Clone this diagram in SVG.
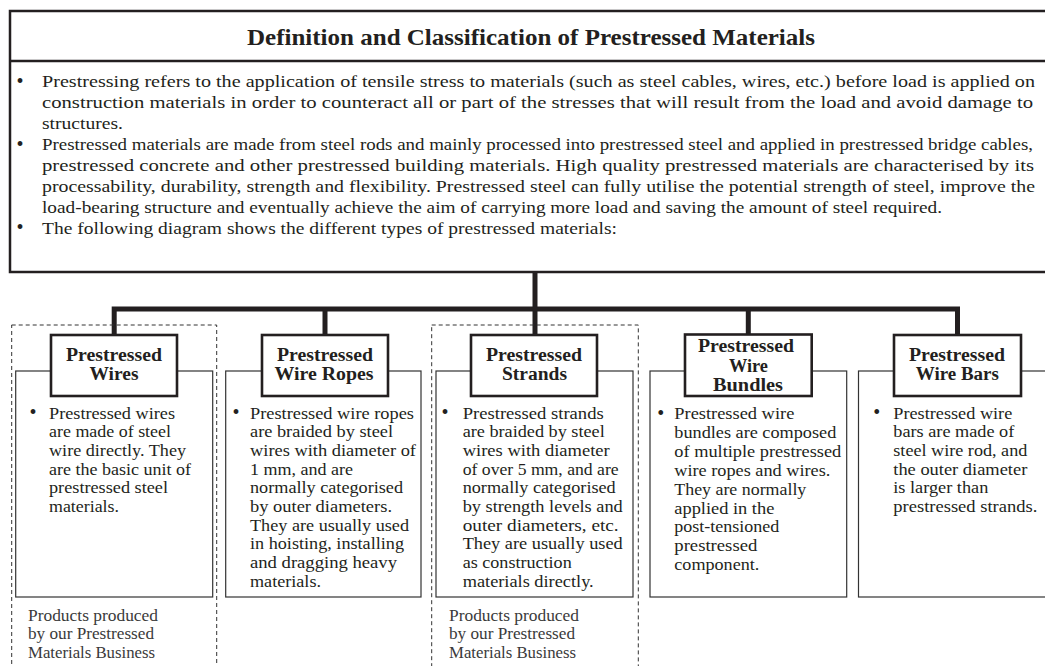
<svg xmlns="http://www.w3.org/2000/svg" width="1045" height="666" viewBox="0 0 1045 666">
<style>
.t{font-family:"Liberation Serif","Times New Roman",serif;fill:#231f20}
.body{font-size:17px}
.bx{font-size:16px}
.prod{font-size:16px;fill:#3a3a3a}
.head{font-size:18.5px;font-weight:bold;text-anchor:middle}
.title{font-size:23.5px;font-weight:bold;text-anchor:middle}
.bul{text-anchor:middle;font-size:20px}
.frame{fill:#fff;stroke:#231f20;stroke-width:2.5}
.tbox{fill:#fff;stroke:#231f20;stroke-width:2.6}
.content{fill:#fff;stroke:#333;stroke-width:1.2}
.dash{fill:none;stroke:#333;stroke-width:1;stroke-dasharray:4 3}
.conn{fill:none;stroke:#231f20;stroke-width:5;stroke-linejoin:miter;stroke-linecap:butt}
</style>
<rect width="1045" height="666" fill="#fff"/>

<g id="header">
<rect class="frame" x="10" y="11" width="1045" height="261"/>
<line x1="10" y1="61" x2="1050" y2="61" stroke="#231f20" stroke-width="2.5"/>
<text class="t title" x="531" y="45" textLength="568" lengthAdjust="spacingAndGlyphs">Definition and Classification of Prestressed Materials</text>
<g class="t body">
<text class="bul" x="20" y="87.5">•</text>
<text x="42" y="87" textLength="993" lengthAdjust="spacingAndGlyphs">Prestressing refers to the application of tensile stress to materials (such as steel cables, wires, etc.) before load is applied on</text>
<text x="42" y="108" textLength="991" lengthAdjust="spacingAndGlyphs">construction materials in order to counteract all or part of the stresses that will result from the load and avoid damage to</text>
<text x="42" y="129" textLength="81" lengthAdjust="spacingAndGlyphs">structures.</text>
<text class="bul" x="20" y="150.5">•</text>
<text x="42" y="150" textLength="991" lengthAdjust="spacingAndGlyphs">Prestressed materials are made from steel rods and mainly processed into prestressed steel and applied in prestressed bridge cables,</text>
<text x="42" y="171" textLength="992" lengthAdjust="spacingAndGlyphs">prestressed concrete and other prestressed building materials. High quality prestressed materials are characterised by its</text>
<text x="42" y="192" textLength="993" lengthAdjust="spacingAndGlyphs">processability, durability, strength and flexibility. Prestressed steel can fully utilise the potential strength of steel, improve the</text>
<text x="42" y="212.7" textLength="900" lengthAdjust="spacingAndGlyphs">load-bearing structure and eventually achieve the aim of carrying more load and saving the amount of steel required.</text>
<text class="bul" x="20" y="234">•</text>
<text x="42" y="233.5" textLength="575" lengthAdjust="spacingAndGlyphs">The following diagram shows the different types of prestressed materials:</text>
</g>
</g>

<g id="connectors">
<line class="conn" x1="535" y1="272" x2="535" y2="335"/>
<path class="conn" d="M114.2,335 V309 H957.5 V335"/>
<line class="conn" x1="325" y1="309" x2="325" y2="335"/>
<line class="conn" x1="748.3" y1="309" x2="748.3" y2="335"/>
</g>

<g id="node-wires">
<rect class="dash" x="11.7" y="325" width="205" height="360"/>
<rect class="content" x="15.7" y="371" width="197" height="226"/>
<rect class="tbox" x="51" y="335" width="126" height="61"/>
<text class="t head" x="114" y="360.7" textLength="96" lengthAdjust="spacingAndGlyphs">Prestressed</text>
<text class="t head" x="114" y="380" textLength="49" lengthAdjust="spacingAndGlyphs">Wires</text>
<g class="t bx">
<text class="bul" x="33" y="419">•</text>
<text x="49" y="418.5" textLength="126" lengthAdjust="spacingAndGlyphs">Prestressed wires</text>
<text x="49" y="437.2" textLength="122" lengthAdjust="spacingAndGlyphs">are made of steel</text>
<text x="49" y="455.9" textLength="137" lengthAdjust="spacingAndGlyphs">wire directly. They</text>
<text x="49" y="474.6" textLength="142" lengthAdjust="spacingAndGlyphs">are the basic unit of</text>
<text x="49" y="493.3" textLength="119" lengthAdjust="spacingAndGlyphs">prestressed steel</text>
<text x="49" y="512" textLength="70" lengthAdjust="spacingAndGlyphs">materials.</text>
</g>
<g class="t prod">
<text x="28" y="620.5" textLength="130" lengthAdjust="spacingAndGlyphs">Products produced</text>
<text x="28" y="639.2" textLength="126" lengthAdjust="spacingAndGlyphs">by our Prestressed</text>
<text x="28" y="657.8" textLength="127" lengthAdjust="spacingAndGlyphs">Materials Business</text>
</g>
</g>

<g id="node-wire-ropes">
<rect class="content" x="225.7" y="371" width="195.3" height="226"/>
<rect class="tbox" x="262" y="335" width="126" height="61"/>
<text class="t head" x="325" y="360.7" textLength="96" lengthAdjust="spacingAndGlyphs">Prestressed</text>
<text class="t head" x="324" y="380" textLength="99" lengthAdjust="spacingAndGlyphs">Wire Ropes</text>
<g class="t bx">
<text class="bul" x="236" y="419">•</text>
<text x="250" y="418.5" textLength="164" lengthAdjust="spacingAndGlyphs">Prestressed wire ropes</text>
<text x="250" y="437.2" textLength="143" lengthAdjust="spacingAndGlyphs">are braided by steel</text>
<text x="250" y="455.9" textLength="166" lengthAdjust="spacingAndGlyphs">wires with diameter of</text>
<text x="250" y="474.6" textLength="103" lengthAdjust="spacingAndGlyphs">1 mm, and are</text>
<text x="250" y="493.3" textLength="153" lengthAdjust="spacingAndGlyphs">normally categorised</text>
<text x="250" y="512" textLength="142" lengthAdjust="spacingAndGlyphs">by outer diameters.</text>
<text x="250" y="530.7" textLength="159" lengthAdjust="spacingAndGlyphs">They are usually used</text>
<text x="250" y="549.4" textLength="154" lengthAdjust="spacingAndGlyphs">in hoisting, installing</text>
<text x="250" y="568.1" textLength="147" lengthAdjust="spacingAndGlyphs">and dragging heavy</text>
<text x="250" y="586.8" textLength="71" lengthAdjust="spacingAndGlyphs">materials.</text>
</g>
</g>

<g id="node-strands">
<rect class="dash" x="431.7" y="325" width="206.6" height="360"/>
<rect class="content" x="436" y="371" width="197" height="226"/>
<rect class="tbox" x="471" y="335" width="126" height="61"/>
<text class="t head" x="534" y="360.7" textLength="96" lengthAdjust="spacingAndGlyphs">Prestressed</text>
<text class="t head" x="534.5" y="380" textLength="65" lengthAdjust="spacingAndGlyphs">Strands</text>
<g class="t bx">
<text class="bul" x="445" y="419">•</text>
<text x="462.7" y="418.5" textLength="141" lengthAdjust="spacingAndGlyphs">Prestressed strands</text>
<text x="462.7" y="437.2" textLength="142" lengthAdjust="spacingAndGlyphs">are braided by steel</text>
<text x="462.7" y="455.9" textLength="147" lengthAdjust="spacingAndGlyphs">wires with diameter</text>
<text x="462.7" y="474.6" textLength="156" lengthAdjust="spacingAndGlyphs">of over 5 mm, and are</text>
<text x="462.7" y="493.3" textLength="153" lengthAdjust="spacingAndGlyphs">normally categorised</text>
<text x="462.7" y="512" textLength="160" lengthAdjust="spacingAndGlyphs">by strength levels and</text>
<text x="462.7" y="530.7" textLength="156" lengthAdjust="spacingAndGlyphs">outer diameters, etc.</text>
<text x="462.7" y="549.4" textLength="160" lengthAdjust="spacingAndGlyphs">They are usually used</text>
<text x="462.7" y="568.1" textLength="109" lengthAdjust="spacingAndGlyphs">as construction</text>
<text x="462.7" y="586.8" textLength="131" lengthAdjust="spacingAndGlyphs">materials directly.</text>
</g>
<g class="t prod">
<text x="449" y="620.5" textLength="130" lengthAdjust="spacingAndGlyphs">Products produced</text>
<text x="449" y="639.2" textLength="126" lengthAdjust="spacingAndGlyphs">by our Prestressed</text>
<text x="449" y="657.8" textLength="127" lengthAdjust="spacingAndGlyphs">Materials Business</text>
</g>
</g>

<g id="node-wire-bundles">
<rect class="content" x="650" y="371" width="196.7" height="226"/>
<rect class="tbox" x="685" y="334.5" width="126.7" height="61.5"/>
<text class="t head" x="746" y="352.3" textLength="96" lengthAdjust="spacingAndGlyphs">Prestressed</text>
<text class="t head" x="748.5" y="371.7" textLength="39" lengthAdjust="spacingAndGlyphs">Wire</text>
<text class="t head" x="748" y="390.7" textLength="70" lengthAdjust="spacingAndGlyphs">Bundles</text>
<g class="t bx">
<text class="bul" x="660.7" y="419.5">•</text>
<text x="674.3" y="419" textLength="120" lengthAdjust="spacingAndGlyphs">Prestressed wire</text>
<text x="674.3" y="437.9" textLength="162" lengthAdjust="spacingAndGlyphs">bundles are composed</text>
<text x="674.3" y="456.8" textLength="167" lengthAdjust="spacingAndGlyphs">of multiple prestressed</text>
<text x="674.3" y="475.7" textLength="156" lengthAdjust="spacingAndGlyphs">wire ropes and wires.</text>
<text x="674.3" y="494.6" textLength="132" lengthAdjust="spacingAndGlyphs">They are normally</text>
<text x="674.3" y="513.5" textLength="100" lengthAdjust="spacingAndGlyphs">applied in the</text>
<text x="674.3" y="532.4" textLength="105" lengthAdjust="spacingAndGlyphs">post-tensioned</text>
<text x="674.3" y="551.3" textLength="83" lengthAdjust="spacingAndGlyphs">prestressed</text>
<text x="674.3" y="570.2" textLength="85" lengthAdjust="spacingAndGlyphs">component.</text>
</g>
</g>

<g id="node-wire-bars">
<rect class="content" x="858.5" y="371" width="200" height="226"/>
<rect class="tbox" x="894" y="335" width="127" height="61"/>
<text class="t head" x="957" y="360.7" textLength="96" lengthAdjust="spacingAndGlyphs">Prestressed</text>
<text class="t head" x="957.3" y="380" textLength="83" lengthAdjust="spacingAndGlyphs">Wire Bars</text>
<g class="t bx">
<text class="bul" x="876.7" y="419">•</text>
<text x="893.3" y="418.5" textLength="119" lengthAdjust="spacingAndGlyphs">Prestressed wire</text>
<text x="893.3" y="437.2" textLength="121" lengthAdjust="spacingAndGlyphs">bars are made of</text>
<text x="893.3" y="455.9" textLength="134" lengthAdjust="spacingAndGlyphs">steel wire rod, and</text>
<text x="893.3" y="474.6" textLength="134" lengthAdjust="spacingAndGlyphs">the outer diameter</text>
<text x="893.3" y="493.3" textLength="95" lengthAdjust="spacingAndGlyphs">is larger than</text>
<text x="893.3" y="512" textLength="144" lengthAdjust="spacingAndGlyphs">prestressed strands.</text>
</g>
</g>
</svg>
